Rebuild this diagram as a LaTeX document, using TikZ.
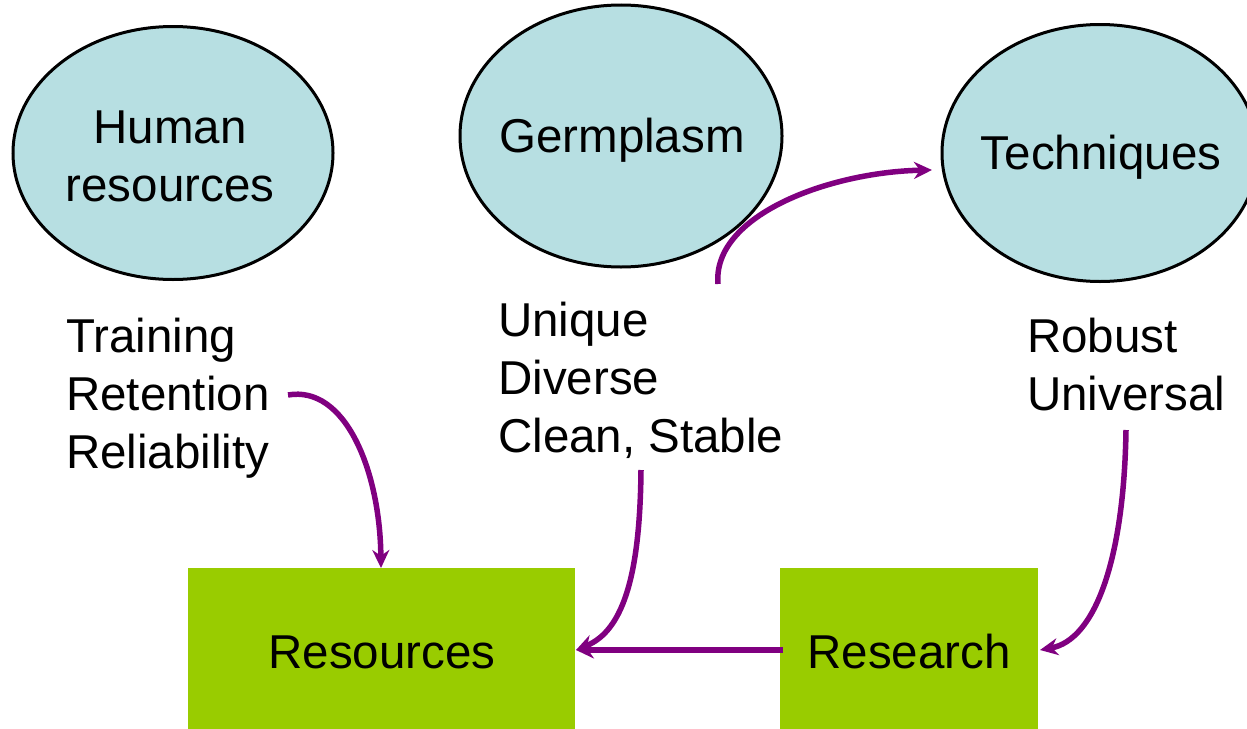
\documentclass[tikz,border=0pt]{standalone}
\usepackage{fontspec}
\setmainfont{Liberation Sans}
\usetikzlibrary{shapes.geometric,arrows.meta}
\definecolor{ellfill}{HTML}{B7DFE2}
\definecolor{boxgreen}{HTML}{99CC00}
\definecolor{arrowpurple}{HTML}{800080}
\begin{document}
\begin{tikzpicture}[x=1pt,y=-1pt,
  blob/.style={ellipse,draw=black,line width=3pt,fill=ellfill,inner sep=0pt},
  greenbox/.style={rectangle,fill=boxgreen,draw=none,inner sep=0pt},
  lbl/.style={font=\fontsize{47.5}{58}\selectfont,inner sep=0pt},
  listtxt/.style={font=\fontsize{47.5}{58}\selectfont,inner sep=0pt,align=left,anchor=north west},
  conn/.style={draw=arrowpurple,line width=5.5pt,-{Stealth[length=18pt,width=17pt]}}
]
\useasboundingbox (0,0) rectangle (1247,728);
\fill[white] (0,0) rectangle (1247,728);
% ellipses
\node[blob,minimum width=320pt,minimum height=253pt] (hr) at (173,153) {};
\node[blob,minimum width=322pt,minimum height=262pt] (gp) at (621,136) {};
\node[blob,minimum width=316pt,minimum height=257pt] (tq) at (1100,153) {};
\node[lbl,align=center] (hrt) at (170,156) {Human\\resources};
\node[lbl] (gpt) at (622,140) {Germplasm};
\node[lbl] (tqt) at (1101,157) {Techniques};
% lists
\node[listtxt] (l1) at (66,318) {Training\\Retention\\Reliability};
\node[listtxt] (l2) at (498,302) {Unique\\Diverse\\Clean, Stable};
\node[listtxt] (l3) at (1027,318) {Robust\\Universal};
% boxes
\node[greenbox,minimum width=387pt,minimum height=170pt] (res) at (381.5,653) {};
\node[greenbox,minimum width=258pt,minimum height=170pt] (rsc) at (909,653) {};
\node[lbl] (rest) at (382,652) {Resources};
\node[lbl] (rsct) at (909,652) {Research};
% connector endpoints
\coordinate (a1) at (288,395);
\coordinate (a1e) at (381,568);
\coordinate (a2) at (641,470);
\coordinate (resE) at (576,650);
\coordinate (rscW) at (783,650);
\coordinate (a4) at (1126,430);
\coordinate (rscE) at (1040,650);
\coordinate (a5) at (718,284);
\coordinate (tqW) at (932,170);
% connectors
\draw[conn] (a1) .. controls (345,385) and (380,470) .. (a1e);
\draw[conn] (a2) .. controls (640,570) and (625,630) .. (resE);
\draw[conn] (rscW) -- (resE);
\draw[conn] (a4) .. controls (1124,560) and (1095,640) .. (rscE);
\draw[conn] (a5) .. controls (712,215) and (830,172) .. (tqW);
\end{tikzpicture}
\end{document}
